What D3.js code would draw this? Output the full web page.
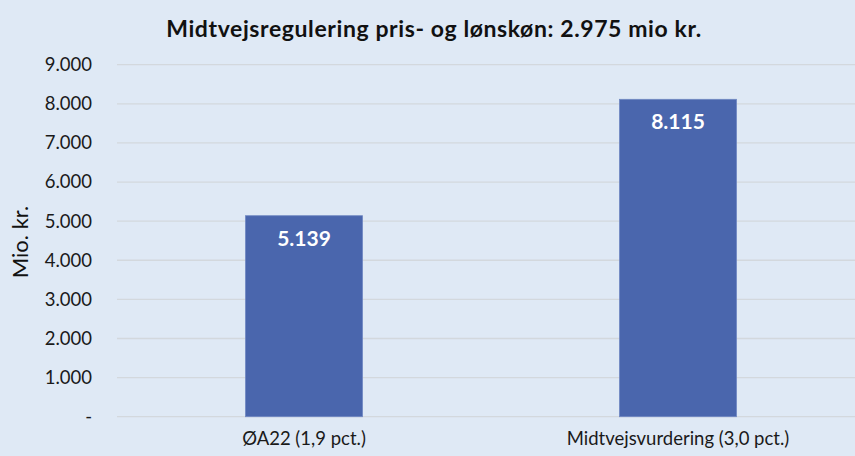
<!DOCTYPE html>
<html>
<head>
<meta charset="utf-8">
<script src="https://cdn.jsdelivr.net/npm/d3@7"></script>
<style>
  html, body { margin: 0; padding: 0; background: #dfe9f5; }
  svg { display: block; font-family: Lato, "Open Sans", sans-serif; }
</style>
</head>
<body>
<svg id="chart" width="855" height="456"></svg>
<script>
var categories = ['ØA22 (1,9 pct.)', 'Midtvejsvurdering (3,0 pct.)'];
var values = [5139, 8115];
var yTicks = [0, 1000, 2000, 3000, 4000, 5000, 6000, 7000, 8000, 9000];
var title = 'Midtvejsregulering pris- og lønskøn: 2.975 mio kr.';
var yTitle = 'Mio. kr.';

(function () {
  var svg = d3.select('#chart');
  var left = 117, right = 865, top = 64.7, bottom = 416.7;

  var da = d3.formatLocale({decimal: ',', thousands: '.', grouping: [3], currency: ['', ' kr.']});
  var fmt = da.format(',d');
  var tickFmt = function (d) { return d === 0 ? '-' : fmt(d); };

  var x = d3.scaleBand().domain(categories).range([left, right])
      .paddingInner(0.687).paddingOuter(0.3435);
  var y = d3.scaleLinear().domain([0, 9000]).range([bottom, top]);

  svg.append('rect').attr('width', 855).attr('height', 456).attr('fill', '#dfe9f5');

  // gridlines
  svg.append('g').selectAll('line').data(yTicks).enter().append('line')
      .attr('x1', left).attr('x2', right)
      .attr('y1', function (d) { return y(d); })
      .attr('y2', function (d) { return y(d); })
      .attr('stroke', '#d3d8dd').attr('stroke-width', 1.3);

  // y axis labels
  var yAxis = d3.axisLeft(y).tickValues(yTicks).tickFormat(tickFmt).tickSize(0).tickPadding(0);
  var ya = svg.append('g').attr('transform', 'translate(92,0)').call(yAxis);
  ya.select('.domain').remove();
  ya.selectAll('text').attr('font-size', 18.5).attr('fill', '#1a1a1a')
      .attr('font-family', 'Lato, sans-serif');

  // x axis labels
  var xAxis = d3.axisBottom(x).tickSize(0).tickPadding(0);
  var xa = svg.append('g').attr('transform', 'translate(0,' + 432 + ')').call(xAxis);
  xa.select('.domain').remove();
  xa.selectAll('text').attr('font-size', 18.5).attr('fill', '#1a1a1a')
      .attr('font-family', 'Lato, sans-serif');

  // bars
  svg.append('g').selectAll('rect').data(values).enter().append('rect')
      .attr('x', function (d, i) { return x(categories[i]); })
      .attr('y', function (d) { return y(d); })
      .attr('width', x.bandwidth())
      .attr('height', function (d) { return y(0) - y(d); })
      .attr('fill', '#4a66ad')
      .attr('stroke', '#7088c2').attr('stroke-width', 0.8);

  // value labels
  svg.append('g').selectAll('text').data(values).enter().append('text')
      .attr('x', function (d, i) { return x(categories[i]) + x.bandwidth() / 2; })
      .attr('y', function (d) { return y(d) + 30; })
      .attr('text-anchor', 'middle')
      .attr('font-size', 21).attr('font-weight', 'bold').attr('fill', '#fff')
      .text(function (d) { return fmt(d); });

  // title
  svg.append('text').attr('x', 434).attr('y', 37).attr('text-anchor', 'middle')
      .attr('font-size', 23).attr('font-weight', 'bold').attr('fill', '#111')
      .attr('letter-spacing', 0.6)
      .text(title);

  // y title
  svg.append('text').attr('transform', 'translate(28,242) rotate(-90)')
      .attr('text-anchor', 'middle').attr('font-size', 22).attr('fill', '#111')
      .text(yTitle);
})();
</script>
</body>
</html>
